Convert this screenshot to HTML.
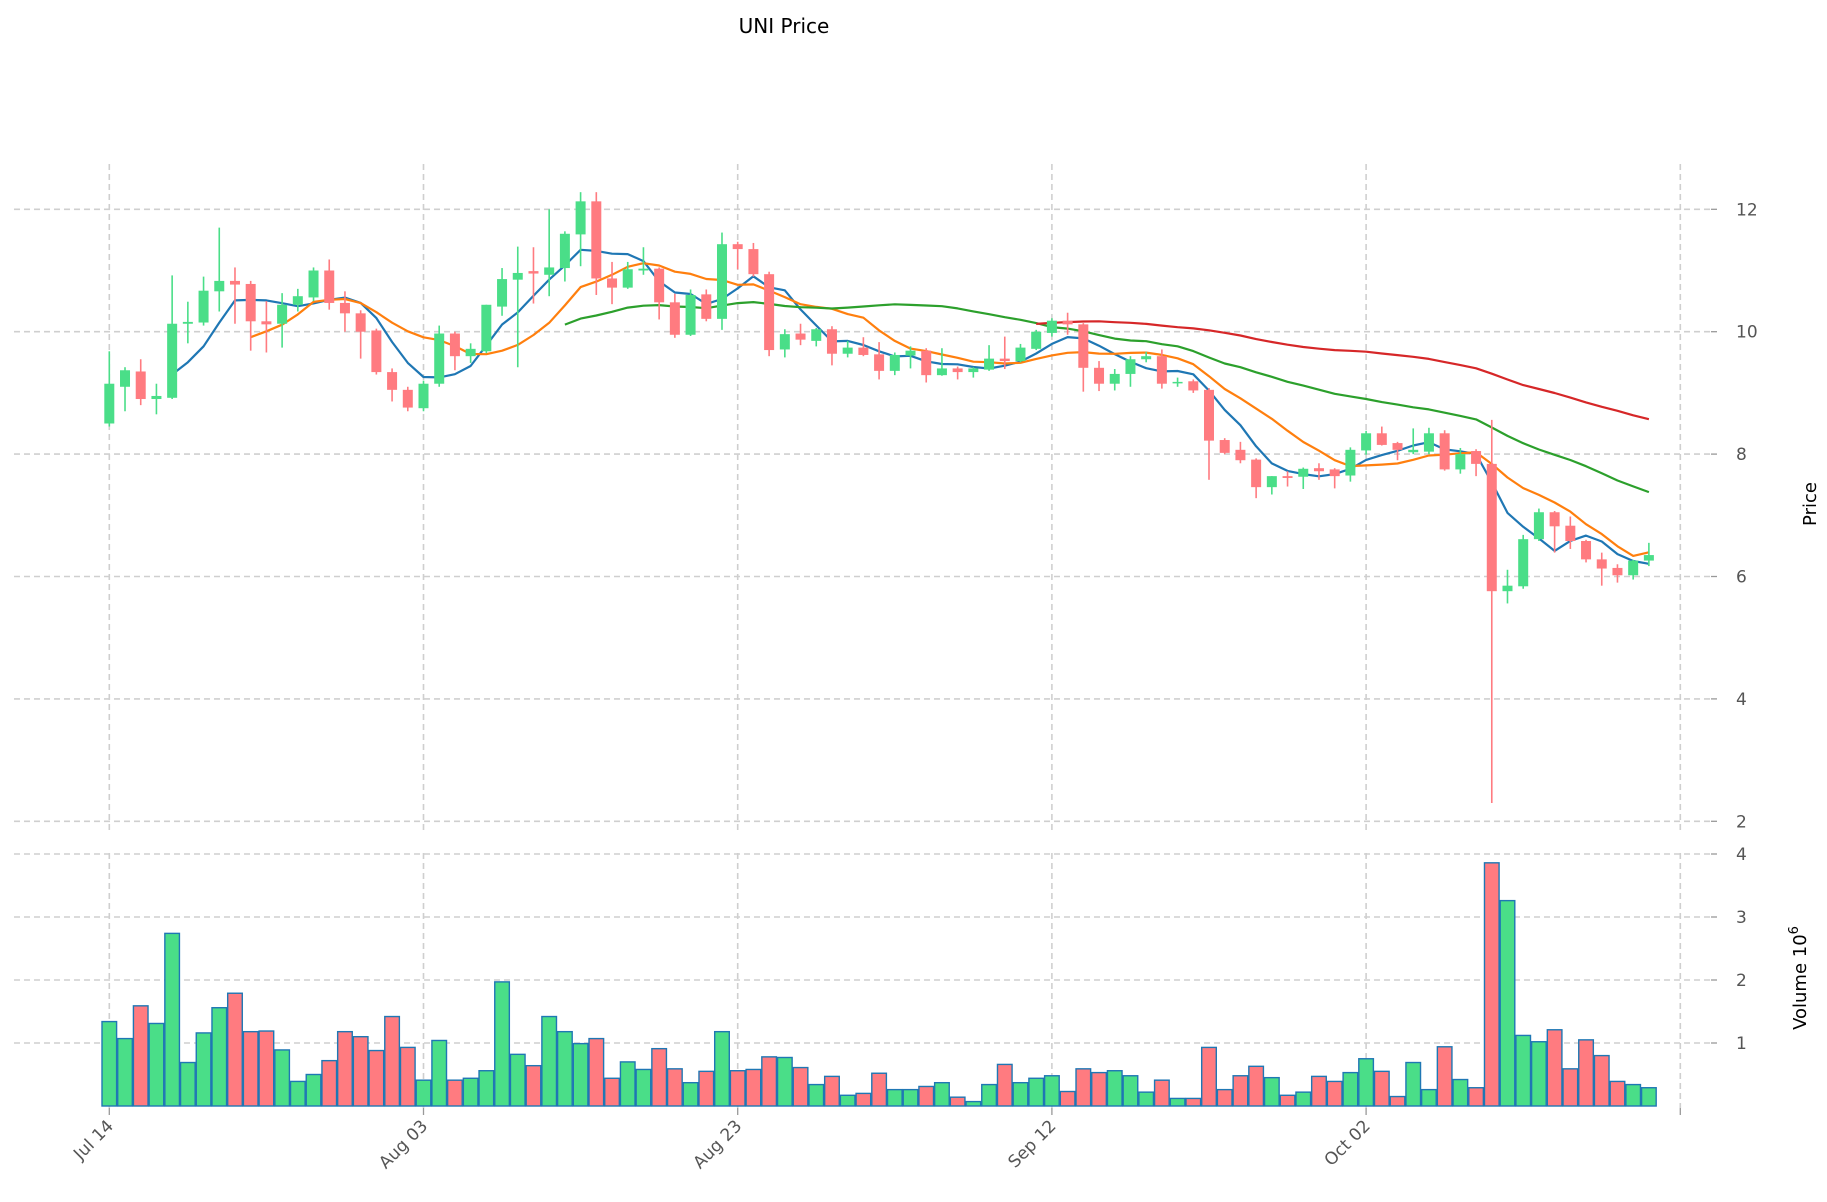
<!DOCTYPE html>
<html><head><meta charset="utf-8"><style>
html,body{margin:0;padding:0;background:#fff;}
svg{display:block;font-family:"DejaVu Sans","Liberation Sans",sans-serif;}
</style></head><body>
<svg id="chart" width="1827" height="1202" viewBox="0 0 1827 1202" xmlns="http://www.w3.org/2000/svg">
<text x="784" y="33" font-size="20" text-anchor="middle" fill="#000">UNI Price</text>
<g id="grid"></g><g id="vol"></g><g id="ma"></g><g id="candles"></g><g id="axes"></g>
<text transform="translate(1816,504) rotate(-90)" font-size="18" text-anchor="middle" fill="#000">Price</text>
<text transform="translate(1806,978) rotate(-90)" font-size="18" text-anchor="middle" fill="#000">Volume  10<tspan dy="-8" font-size="13">6</tspan></text>
</svg>
<script>
const opens=[8.5,9.1,9.35,8.9,8.92,10.13,10.15,10.66,10.83,10.78,10.17,10.13,10.44,10.56,11.0,10.47,10.3,10.02,9.34,9.05,8.75,9.15,9.97,9.6,9.68,10.41,10.85,10.99,10.93,11.04,11.59,12.13,10.87,10.72,11.0,11.03,10.48,9.95,10.61,10.21,11.43,11.35,10.94,9.71,9.97,9.85,10.04,9.64,9.74,9.63,9.36,9.61,9.69,9.29,9.4,9.34,9.38,9.56,9.52,9.72,9.98,10.18,10.12,9.41,9.15,9.31,9.55,9.6,9.16,9.19,9.05,8.23,8.07,7.91,7.46,7.64,7.63,7.77,7.75,7.65,8.06,8.34,8.18,8.03,8.04,8.34,7.75,8.05,7.84,5.76,5.84,6.61,7.05,6.83,6.58,6.28,6.14,6.02,6.26];
const highs=[9.68,9.42,9.55,9.15,10.92,10.49,10.9,11.7,11.05,10.83,10.5,10.63,10.7,11.05,11.18,10.66,10.35,10.05,9.4,9.1,9.2,10.1,10.0,9.81,10.44,11.04,11.39,11.38,12.0,11.64,12.28,12.28,11.14,11.14,11.38,11.05,10.62,10.69,10.69,11.62,11.47,11.45,10.98,10.04,10.13,10.06,10.09,9.85,9.91,9.83,9.66,9.76,9.73,9.73,9.43,9.42,9.78,9.92,9.8,10.03,10.22,10.31,10.14,9.52,9.39,9.6,9.67,9.71,9.25,9.22,9.08,8.26,8.2,7.93,7.64,7.72,7.78,7.85,7.77,8.11,8.38,8.45,8.2,8.42,8.43,8.39,8.1,8.08,8.56,6.11,6.68,7.11,7.07,6.98,6.6,6.39,6.2,6.27,6.55];
const lows=[8.45,8.7,8.8,8.65,8.9,9.81,10.1,10.33,10.13,9.69,9.66,9.74,10.33,10.5,10.36,10.0,9.56,9.3,8.86,8.7,8.7,9.1,9.37,9.49,9.65,10.26,9.42,10.46,10.58,10.82,11.07,10.6,10.45,10.7,10.93,10.2,9.9,9.93,10.17,10.03,11.02,10.9,9.6,9.58,9.78,9.76,9.45,9.58,9.6,9.22,9.29,9.4,9.17,9.28,9.22,9.25,9.36,9.39,9.5,9.7,9.92,9.95,9.02,9.03,9.04,9.1,9.5,9.07,9.1,9.0,7.58,8.0,7.85,7.28,7.34,7.47,7.43,7.58,7.44,7.55,7.99,8.14,7.9,8.0,8.0,7.73,7.68,7.64,2.3,5.56,5.8,6.58,6.39,6.45,6.23,5.85,5.9,5.95,6.17];
const closes=[9.15,9.37,8.9,8.95,10.13,10.16,10.67,10.83,10.77,10.17,10.12,10.44,10.58,11.0,10.47,10.3,10.0,9.34,9.05,8.76,9.15,9.97,9.6,9.72,10.44,10.86,10.96,10.95,11.05,11.6,12.13,10.87,10.72,11.02,11.03,10.48,9.95,10.6,10.21,11.43,11.35,10.94,9.7,9.96,9.87,10.04,9.64,9.74,9.62,9.36,9.62,9.69,9.29,9.4,9.34,9.4,9.56,9.52,9.74,10.0,10.18,10.12,9.41,9.15,9.31,9.55,9.6,9.15,9.18,9.04,8.22,8.02,7.9,7.46,7.64,7.61,7.76,7.72,7.64,8.07,8.34,8.15,8.07,8.07,8.34,7.75,8.0,7.84,5.76,5.85,6.61,7.05,6.82,6.58,6.28,6.13,6.02,6.26,6.35];
const volumes=[1.34,1.07,1.59,1.31,2.74,0.69,1.16,1.56,1.79,1.18,1.19,0.89,0.39,0.5,0.72,1.18,1.1,0.88,1.42,0.93,0.41,1.04,0.41,0.44,0.56,1.97,0.82,0.64,1.42,1.18,0.99,1.07,0.44,0.7,0.58,0.91,0.59,0.37,0.55,1.18,0.56,0.58,0.78,0.77,0.61,0.34,0.47,0.17,0.2,0.52,0.26,0.26,0.31,0.37,0.14,0.07,0.34,0.66,0.37,0.44,0.48,0.23,0.59,0.53,0.56,0.48,0.22,0.41,0.12,0.12,0.93,0.26,0.48,0.63,0.45,0.17,0.22,0.47,0.39,0.53,0.75,0.55,0.15,0.69,0.26,0.94,0.42,0.29,3.86,3.26,1.12,1.02,1.21,0.59,1.05,0.8,0.39,0.34,0.29];
const maWindows=[5,10,30,60];
const maColors=["#1f77b4","#ff7f0e","#2ca02c","#d62728"];
const dateTickIdx=[0,20,40,60,80,100];
const dateTickLabels=["Jul 14","Aug 03","Aug 23","Sep 12","Oct 02",""];
const priceTicks=[2,4,6,8,10,12];
const volTicks=[1,2,3,4];

const NS="http://www.w3.org/2000/svg";
const X0=109.3, DX=15.71;
const xS=i=>X0+DX*i;
const yP=p=>209.3+(12-p)*61.2;
const yV=v=>1106-63*v;
const GREEN="#4ade88", RED="#ff7b80";
function mk(tag,attrs,parent){const e=document.createElementNS(NS,tag);for(const k in attrs)e.setAttribute(k,attrs[k]);parent.appendChild(e);return e;}
const grid=document.getElementById('grid'),vol=document.getElementById('vol'),ma=document.getElementById('ma'),cg=document.getElementById('candles'),axes=document.getElementById('axes');
const gstyle={stroke:"#cfcfcf","stroke-width":1.6,"stroke-dasharray":"6,4",fill:"none"};
priceTicks.forEach(p=>{
  const l=mk('line',Object.assign({x1:14,x2:1711,y1:yP(p),y2:yP(p)},gstyle),grid);
  
  
  const t=mk('text',{x:1736,y:yP(p)+6,"font-size":17,fill:"#555"},axes);
  t.textContent=String(p);
  
  
  mk('line',{x1:1711,x2:1717,y1:yP(p),y2:yP(p),stroke:"#999","stroke-width":1.3},axes);
});
volTicks.forEach(v=>{
  const l=mk('line',Object.assign({x1:14,x2:1711,y1:yV(v),y2:yV(v)},gstyle),grid);
  
  
  const t=mk('text',{x:1736,y:yV(v)+6,"font-size":17,fill:"#555"},axes);
  t.textContent=String(v);
  
  
  mk('line',{x1:1711,x2:1717,y1:yV(v),y2:yV(v),stroke:"#999","stroke-width":1.3},axes);
});
dateTickIdx.forEach((d,k)=>{
  const x=xS(d);
  const l1=mk('line',Object.assign({x1:x,x2:x,y1:164,y2:834},gstyle),grid);
  
  
  mk('line',Object.assign({x1:x,x2:x,y1:853,y2:1108},gstyle),grid);
  mk('line',{x1:x,x2:x,y1:1108,y2:1115,stroke:"#999","stroke-width":1.3},axes);
  if(dateTickLabels[k]){
    const t=mk('text',{transform:`translate(${x+5},${1127}) rotate(-45)`,"font-size":17,fill:"#555","text-anchor":"end"},axes);
    t.textContent=dateTickLabels[k];
    
    
  }
});
volumes.forEach((v,i)=>{
  const up=closes[i]>=opens[i];
  const r=mk('rect',{x:xS(i)-7.3,y:yV(v),width:14.6,height:yV(0)-yV(v),fill:up?GREEN:RED,stroke:"#1f77b4","stroke-width":1.4},vol);
  
  
});
maWindows.forEach((w,k)=>{
  const pts=[];
  for(let i=w-1;i<closes.length;i++){let s=0;for(let j=i-w+1;j<=i;j++)s+=closes[j];pts.push(xS(i).toFixed(1)+","+yP(s/w).toFixed(1));}
  const pl=mk('polyline',{points:pts.join(" "),fill:"none",stroke:maColors[k],"stroke-width":2.2,"stroke-linejoin":"round"},ma);
  
  
});
opens.forEach((o,i)=>{
  const c=closes[i],up=c>=o,col=up?GREEN:RED,x=xS(i);
  const wk=mk('line',{x1:x,x2:x,y1:yP(highs[i]),y2:yP(lows[i]),stroke:col,"stroke-width":1.6},cg);
  
  
  const top=yP(Math.max(o,c)),bot=yP(Math.min(o,c));
  const b=mk('rect',{x:x-5,y:top,width:10,height:Math.max(1.5,bot-top),fill:col},cg);
  
  
});
</script>
</body></html>
